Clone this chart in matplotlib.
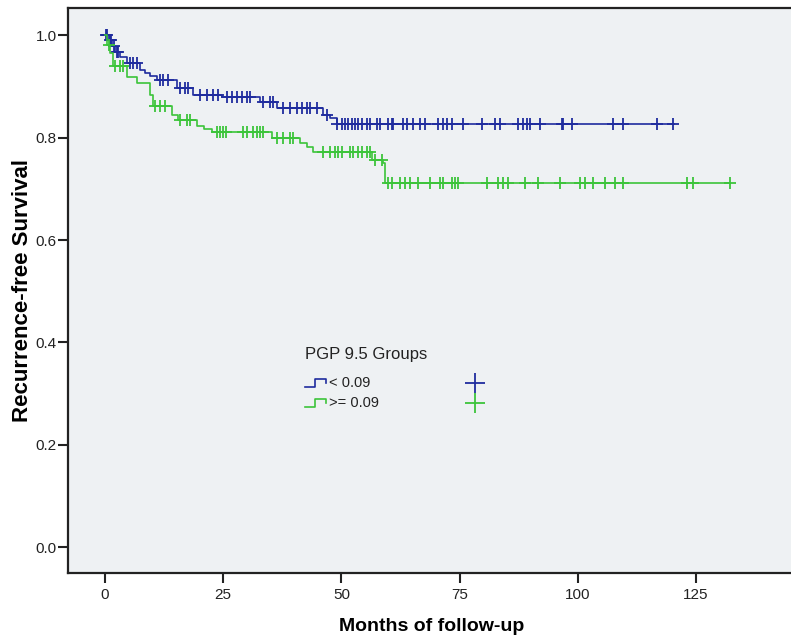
import numpy as np
import matplotlib
matplotlib.use("Agg")
import matplotlib.pyplot as plt
from matplotlib.lines import Line2D

# step data (months, survival)
low_times = [0, 0.8, 1.5, 2.1, 3.2, 4.7, 7.4, 8.5, 9.5, 11.0, 15.2, 18.6, 24.7,
             32.8, 36.4, 46.1, 47.6, 49.0, 120.3]
low_surv = [1.0, 0.99, 0.978, 0.967, 0.957, 0.945, 0.932, 0.926, 0.921, 0.912,
            0.897, 0.884, 0.879, 0.869, 0.858, 0.845, 0.838, 0.826, 0.826]
low_cens = [0.2, 0.5, 1.0, 1.3, 1.8, 2.5, 2.8, 5.3, 5.9, 6.8, 11.6, 12.3, 13.3,
            15.9, 16.9, 17.6, 20.1, 21.6, 22.8, 23.9, 25.8, 26.9, 27.9, 29.0,
            30.0, 30.7, 33.4, 34.9, 35.6, 37.6, 39.1, 40.6, 41.7, 42.7, 43.4,
            44.8, 47.0, 49.1, 50.1, 50.8, 51.4, 52.2, 52.9, 53.5, 54.4, 55.4,
            56.1, 57.6, 58.2, 59.9, 60.7, 60.9, 63.0, 63.9, 65.1, 66.6, 67.7,
            70.4, 71.5, 72.3, 73.4, 75.7, 79.7, 82.5, 83.5, 87.3, 88.4, 89.2,
            89.9, 92.0, 96.6, 96.9, 98.8, 107.4, 109.6, 116.8, 120.1]

high_times = [0, 0.4, 1.0, 1.6, 4.7, 6.8, 9.5, 10.2, 14.2, 15.4, 19.5, 21.0,
              22.6, 35.3, 41.2, 42.7, 44.0, 56.5, 58.9, 59.3, 132.2]
high_surv = [1.0, 0.98, 0.965, 0.94, 0.918, 0.906, 0.883, 0.862, 0.845, 0.835,
             0.822, 0.817, 0.810, 0.800, 0.790, 0.781, 0.772, 0.756, 0.750,
             0.712, 0.712]
high_cens = [0.8, 2.1, 3.2, 3.8, 10.6, 11.6, 12.7, 15.9, 17.3, 18.0, 23.7,
             24.3, 25.0, 25.6, 29.2, 30.0, 31.3, 32.1, 32.8, 33.4, 36.4, 37.6,
             39.1, 39.8, 46.1, 47.6, 48.6, 49.3, 50.1, 51.8, 52.5, 53.5, 54.4,
             55.4, 56.0, 57.1, 58.6, 59.9, 60.7, 62.4, 63.5, 64.5, 66.2, 68.7,
             70.9, 71.5, 73.4, 74.0, 74.7, 80.8, 83.1, 84.2, 85.2, 88.8, 91.6,
             96.2, 100.5, 101.5, 103.2, 105.8, 107.9, 109.6, 123.1, 124.4, 132.2]

groups = ["< 0.09", ">= 0.09"]
blue = "#1f2c9e"
green = "#3cc43a"

plt.rcParams['font.family'] = ['Liberation Sans', 'DejaVu Sans']

fig = plt.figure(figsize=(7.91, 6.39), dpi=100)
ax = fig.add_axes([0.086, 0.1033, 0.92, 0.8842])
ax.set_facecolor("#eef1f3")


def surv_at(times, surv, t):
    idx = np.searchsorted(times, t, side='right') - 1
    return np.asarray(surv)[idx]


for times, surv, cens, col in [(low_times, low_surv, low_cens, blue),
                               (high_times, high_surv, high_cens, green)]:
    ax.step(times, surv, where='post', color=col, lw=1.2)
    ax.plot(cens, surv_at(times, surv, cens), '+', color=col, ms=8, mew=1.3)

ax.set_xlim(-7.83, 146.1)
ax.set_ylim(-0.05, 1.053)
ax.set_xticks([0, 25, 50, 75, 100, 125])
ax.set_yticks([0.0, 0.2, 0.4, 0.6, 0.8, 1.0])
ax.set_yticklabels(["0.0", "0.2", "0.4", "0.6", "0.8", "1.0"])
ax.tick_params(axis='both', direction='out', length=7, width=1.5,
               labelsize=11, colors='#222222')
ax.tick_params(axis='y', pad=1)
for s in ['left', 'bottom', 'top']:
    ax.spines[s].set_linewidth(1.6)
    ax.spines[s].set_color('#222222')
ax.spines['right'].set_visible(False)

ax.set_xlabel("Months of follow-up", labelpad=12, fontweight='bold',
              fontsize=14)
ax.set_ylabel("Recurrence-free Survival", labelpad=2, fontweight='bold',
              fontsize=16)

# legend drawn by hand, like the SPSS one
tr = ax.transAxes
ax.text(0.41, 0.386, "PGP 9.5 Groups", transform=tr, fontsize=12,
        ha='center', va='center', color='#222222')
for i, (g, col) in enumerate(zip(groups, [blue, green])):
    yy = 0.336 - i * 0.035
    xs = [0.325, 0.340, 0.340, 0.355, 0.355]
    ys = [yy - 0.007, yy - 0.007, yy + 0.007, yy + 0.007, yy]
    ax.add_line(Line2D(xs, ys, transform=tr, color=col, lw=1.2))
    ax.text(0.358, yy, g, transform=tr, fontsize=10.5, va='center',
            color='#222222')
    ax.add_line(Line2D([0.559], [yy], transform=tr, color=col, marker='+',
                       ms=14, mew=1.3, ls='none'))

fig.savefig("out.png", dpi=100)
